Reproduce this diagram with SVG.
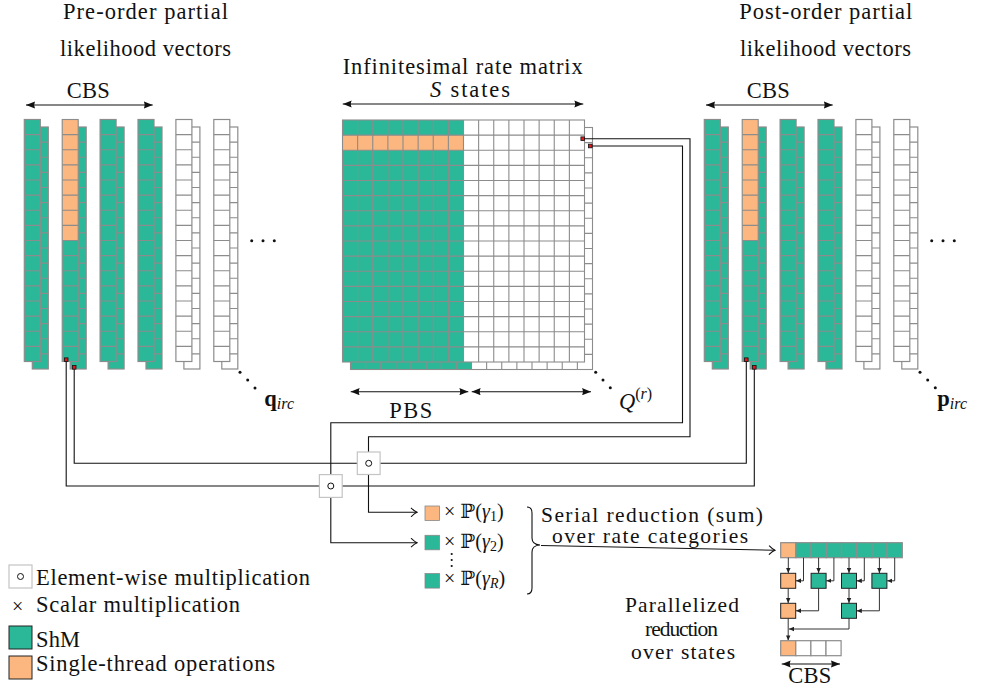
<svg xmlns="http://www.w3.org/2000/svg" xmlns:xlink="http://www.w3.org/1999/xlink" width="988" height="688" viewBox="0 0 988 688">
<style>
.t{font-family:"Liberation Serif","DejaVu Serif",serif;font-size:22.5px;fill:#111}
.s{font-size:20px}
.m{font-size:21.5px}
.gg{fill:#2bb898;stroke:#8c8c8c;stroke-width:1.2}
.go{fill:#fbb77f;stroke:#8c8c8c;stroke-width:1.2}
.gw{fill:#fff;stroke:#8c8c8c;stroke-width:1.2}
.co{fill:#fbb77f}
.cg{fill:#2bb898}
.cw{fill:#fff}
.gl{fill:none;stroke:#8c8c8c;stroke-width:1.1}
.ln{fill:none;stroke:#111;stroke-width:1.1}
.bg{fill:#2bb898;stroke:#222;stroke-width:1}
.bo{fill:#fbb77f;stroke:#222;stroke-width:1}
.cb{fill:#fff;stroke:#c4c4c4;stroke-width:1.2}
.red{fill:#e8161b;stroke:#111;stroke-width:0.8}
</style>
<defs>
<marker id="la" viewBox="0 0 10 8" refX="10" refY="4" markerWidth="9" markerHeight="7.5" markerUnits="userSpaceOnUse" orient="auto-start-reverse"><path d="M0,0 L10,4 L0,8 Q2,4 0,0z" fill="#111"/></marker>
<marker id="to" viewBox="-7 -5 8 10" refX="0" refY="0" markerWidth="8" markerHeight="10" markerUnits="userSpaceOnUse" orient="auto"><path d="M-6,-4.5 C-3.5,-2 -1.5,-0.6 0,0 C-1.5,0.6 -3.5,2 -6,4.5" fill="none" stroke="#111" stroke-width="1.1"/></marker>
<marker id="sa" viewBox="0 0 6 6" refX="6" refY="3" markerWidth="5" markerHeight="5" markerUnits="userSpaceOnUse" orient="auto"><path d="M0,0.3 L6,3 L0,5.7z" fill="#222"/></marker>
<path id="hb" d="M8 22.625h16M8 37.75h16M8 52.875h16M8 68h16M8 83.125h16M8 98.25h16M8 113.375h16M8 128.5h16M8 143.625h16M8 158.75h16M8 173.875h16M8 189h16M8 204.125h16M8 219.25h16M8 234.375h16"/>
<path id="hf" d="M0 15.125h16M0 30.25h16M0 45.375h16M0 60.5h16M0 75.625h16M0 90.75h16M0 105.875h16M0 121h16M0 136.125h16M0 151.25h16M0 166.375h16M0 181.5h16M0 196.625h16M0 211.75h16M0 226.875h16"/>
<path id="mg" d="M15.125 0v242M30.25 0v242M45.375 0v242M60.5 0v242M75.625 0v242M90.75 0v242M105.875 0v242M121 0v242M136.125 0v242M151.25 0v242M166.375 0v242M181.5 0v242M196.625 0v242M211.75 0v242M226.875 0v242M0 15.125h242M0 30.25h242M0 45.375h242M0 60.5h242M0 75.625h242M0 90.75h242M0 105.875h242M0 121h242M0 136.125h242M0 151.25h242M0 166.375h242M0 181.5h242M0 196.625h242M0 211.75h242M0 226.875h242"/>
<g id="vG"><rect class="gg" x="8" y="7.5" width="16" height="242"/><use href="#hb" class="gl"/><rect class="gg" width="16" height="242"/><use href="#hf" class="gl"/></g>
<g id="vO"><rect class="gg" x="8" y="7.5" width="16" height="242"/><use href="#hb" class="gl"/><rect class="cg" width="16" height="242"/><rect class="co" width="16" height="121"/><use href="#hf" class="gl"/><rect class="gl" width="16" height="242"/></g>
<g id="vW"><rect class="gw" x="8" y="7.5" width="16" height="242"/><use href="#hb" class="gl"/><rect class="gw" width="16" height="242"/><use href="#hf" class="gl"/></g>
</defs>
<rect width="988" height="688" fill="#fff"/>

<!-- Pre-order vectors -->
<g id="preorder">
<text class="t" x="63" y="19" textLength="165">Pre-order partial</text>
<text class="t" x="60" y="56" textLength="171">likelihood vectors</text>
<text class="t" x="66.7" y="98" textLength="43">CBS</text>
<line class="ln" x1="26" y1="105" x2="152.7" y2="105" marker-start="url(#la)" marker-end="url(#la)"/>
<use href="#vG" x="24.3" y="119.5"/>
<use href="#vO" x="62.2" y="119.5"/>
<use href="#vG" x="100.1" y="119.5"/>
<use href="#vG" x="138" y="119.5"/>
<use href="#vW" x="175.9" y="119.5"/>
<use href="#vW" x="213.8" y="119.5"/>
<g fill="#111"><circle cx="251.7" cy="240.7" r="1.5"/><circle cx="263" cy="240.7" r="1.5"/><circle cx="274.3" cy="240.7" r="1.5"/>
<circle cx="240" cy="372.3" r="1.5"/><circle cx="247.7" cy="380" r="1.5"/><circle cx="255" cy="388" r="1.5"/></g>
<text class="t" x="264.3" y="406"><tspan font-weight="bold">q</tspan><tspan font-style="italic" font-size="16" dy="3">irc</tspan></text>
</g>

<!-- Rate matrix -->
<g id="matrix">
<text class="t" x="342.7" y="74" textLength="240">Infinitesimal rate matrix</text>
<text class="t" x="430" y="97" textLength="80"><tspan font-style="italic">S</tspan> states</text>
<line class="ln" x1="342.7" y1="104" x2="583.3" y2="104" marker-start="url(#la)" marker-end="url(#la)"/>
<g transform="translate(350.5,127.5)">
<rect class="cg" width="121" height="242"/><rect class="cw" x="121" width="121" height="242"/>
<use href="#mg" class="gl"/><rect class="gl" width="242" height="242"/>
</g>
<g transform="translate(342.5,120)">
<rect class="cg" width="121" height="242"/><rect class="cw" x="121" width="121" height="242"/>
<rect class="co" y="15.125" width="121" height="15.125"/>
<use href="#mg" class="gl"/><rect class="gl" width="242" height="242"/>
</g>
<line class="ln" x1="350.7" y1="391.7" x2="468.3" y2="391.7" marker-start="url(#la)" marker-end="url(#la)"/>
<line class="ln" x1="471.7" y1="391.7" x2="591" y2="391.7" marker-start="url(#la)" marker-end="url(#la)"/>
<text class="t" x="389.3" y="418" textLength="43">PBS</text>
<g fill="#111"><circle cx="595.7" cy="372.3" r="1.5"/><circle cx="603" cy="380" r="1.5"/><circle cx="610.3" cy="387.7" r="1.5"/></g>
<text class="t" x="619" y="409" font-size="23"><tspan font-style="italic">Q</tspan><tspan font-size="16" dy="-10">(</tspan><tspan font-size="16" font-style="italic">r</tspan><tspan font-size="16">)</tspan></text>
</g>

<!-- Post-order vectors -->
<g id="postorder">
<text class="t" x="739.3" y="19" textLength="173">Post-order partial</text>
<text class="t" x="740" y="56" textLength="171">likelihood vectors</text>
<text class="t" x="746.7" y="98" textLength="43">CBS</text>
<line class="ln" x1="706" y1="105" x2="832.7" y2="105" marker-start="url(#la)" marker-end="url(#la)"/>
<use href="#vG" x="704.3" y="119.5"/>
<use href="#vO" x="742.2" y="119.5"/>
<use href="#vG" x="780.1" y="119.5"/>
<use href="#vG" x="818" y="119.5"/>
<use href="#vW" x="855.9" y="119.5"/>
<use href="#vW" x="893.8" y="119.5"/>
<g fill="#111"><circle cx="931.7" cy="240.7" r="1.5"/><circle cx="943" cy="240.7" r="1.5"/><circle cx="954.3" cy="240.7" r="1.5"/>
<circle cx="920" cy="372.3" r="1.5"/><circle cx="927.7" cy="380" r="1.5"/><circle cx="935.3" cy="387.7" r="1.5"/></g>
<text class="t" x="937.3" y="406"><tspan font-weight="bold">p</tspan><tspan font-style="italic" font-size="16" dy="3">irc</tspan></text>
</g>

<!-- Connectors -->
<g id="connectors">
<path class="ln" d="M582.7 138.7H690V436.7H368.5V512.3H417" marker-end="url(#to)"/>
<path class="ln" d="M590.3 146H682.5V422.7H330.8V542.7H417" marker-end="url(#to)"/>
<path class="ln" d="M74.2 367.3V463.3H746.3V359.7"/>
<path class="ln" d="M66.2 359.7V486H754.3V367.3"/>
<path class="ln" d="M527 507Q532 507 532 513V538Q532 544.5 540 545Q532 545.5 532 552V588Q532 594 527 594"/>
<path class="ln" d="M541 545.5L775 550.3" marker-end="url(#to)"/>
</g>

<g id="redmarks">
<rect class="red" x="64.4" y="357.9" width="3.6" height="3.6"/>
<rect class="red" x="72.4" y="365.5" width="3.6" height="3.6"/>
<rect class="red" x="744.5" y="357.9" width="3.6" height="3.6"/>
<rect class="red" x="752.5" y="365.5" width="3.6" height="3.6"/>
<rect class="red" x="580.9" y="136.9" width="3.6" height="3.6"/>
<rect class="red" x="588.5" y="144.2" width="3.6" height="3.6"/>
</g>

<g id="ew1"><rect class="cb" x="357.3" y="452" width="22.8" height="22.5"/><circle cx="368.7" cy="463.3" r="3" fill="#fff" stroke="#111" stroke-width="1"/></g>
<g id="ew2"><rect class="cb" x="319.4" y="474.6" width="22.8" height="22.8"/><circle cx="330.8" cy="486" r="3" fill="#fff" stroke="#111" stroke-width="1"/></g>

<!-- Scalar multiplication by category probabilities -->
<g id="cat1"><rect class="co" x="425" y="506" width="14.5" height="14.5" stroke="#888" stroke-width="0.8"/>
<text class="t s" x="444" y="518">× ℙ(<tspan font-style="italic">γ</tspan><tspan font-size="14" dy="3">1</tspan><tspan dy="-3">)</tspan></text></g>
<g id="cat2"><rect class="cg" x="425" y="535.3" width="14.5" height="14.5" stroke="#888" stroke-width="0.8"/>
<text class="t s" x="444" y="548">× ℙ(<tspan font-style="italic">γ</tspan><tspan font-size="14" dy="3">2</tspan><tspan dy="-3">)</tspan></text></g>
<g fill="#111"><circle cx="451.7" cy="554" r="1.1"/><circle cx="451.7" cy="560" r="1.1"/><circle cx="451.7" cy="566" r="1.1"/></g>
<g id="catR"><rect class="cg" x="425" y="573.6" width="14.5" height="14.5" stroke="#888" stroke-width="0.8"/>
<text class="t s" x="444" y="585">× ℙ(<tspan font-style="italic">γ</tspan><tspan font-size="14" font-style="italic" dy="3">R</tspan><tspan dy="-3">)</tspan></text></g>

<g id="serial">
<text class="t m" x="541" y="522" textLength="222">Serial reduction (sum)</text>
<text class="t m" x="552" y="542.5" textLength="196">over rate categories</text>
</g>

<!-- Parallel reduction tree -->
<g id="tree">
<rect class="go" x="780.7" y="542.7" width="15.2" height="15"/>
<rect class="gg" x="795.9" y="542.7" width="15.2" height="15"/>
<rect class="gg" x="811.1" y="542.7" width="15.2" height="15"/>
<rect class="gg" x="826.3" y="542.7" width="15.2" height="15"/>
<rect class="gg" x="841.5" y="542.7" width="15.2" height="15"/>
<rect class="gg" x="856.7" y="542.7" width="15.2" height="15"/>
<rect class="gg" x="871.9" y="542.7" width="15.2" height="15"/>
<rect class="gg" x="887.1" y="542.7" width="15.2" height="15"/>
<g stroke="#333" stroke-width="1" fill="none">
<path d="M788.3 557.7V573" marker-end="url(#sa)"/>
<path d="M803.5 557.7V580.8H796" marker-end="url(#sa)"/>
<path d="M818.6 557.7V573" marker-end="url(#sa)"/>
<path d="M833.9 557.7V580.8H826.4" marker-end="url(#sa)"/>
<path d="M849 557.7V573" marker-end="url(#sa)"/>
<path d="M864.3 557.7V580.8H856.8" marker-end="url(#sa)"/>
<path d="M879.4 557.7V573" marker-end="url(#sa)"/>
<path d="M894.7 557.7V580.8H887.2" marker-end="url(#sa)"/>
<path d="M788.2 588.3V603" marker-end="url(#sa)"/>
<path d="M818.6 588.3V610.8H796" marker-end="url(#sa)"/>
<path d="M849 588.3V603" marker-end="url(#sa)"/>
<path d="M879.4 588.3V610.8H856.8" marker-end="url(#sa)"/>
<path d="M849 618.3V629H789" marker-end="url(#sa)"/>
<path d="M788.2 618.3V640.4" marker-end="url(#sa)"/>
</g>
<rect class="bo" x="780.7" y="573.3" width="15" height="15"/>
<rect class="bg" x="811.1" y="573.3" width="15" height="15"/>
<rect class="bg" x="841.5" y="573.3" width="15" height="15"/>
<rect class="bg" x="871.9" y="573.3" width="15" height="15"/>
<rect class="bo" x="780.7" y="603.3" width="15" height="15"/>
<rect class="bg" x="841.5" y="603.3" width="15" height="15"/>
<rect class="go" x="780.7" y="640.7" width="15.1" height="15"/>
<rect class="gw" x="795.8" y="640.7" width="15.1" height="15"/>
<rect class="gw" x="810.9" y="640.7" width="15.1" height="15"/>
<rect class="gw" x="826" y="640.7" width="15.1" height="15"/>
<line class="ln" x1="781.7" y1="664" x2="840" y2="664" marker-start="url(#la)" marker-end="url(#la)"/>
<text class="t" x="788.3" y="683" textLength="43">CBS</text>
<text class="t m" x="625" y="612" textLength="114">Parallelized</text>
<text class="t m" x="645" y="636" textLength="73">reduction</text>
<text class="t m" x="631" y="659" textLength="104">over states</text>
</g>

<!-- Legend -->
<g id="legend">
<rect class="cb" x="9" y="565" width="23" height="23"/><circle cx="20.5" cy="576.5" r="3" fill="#fff" stroke="#111" stroke-width="1"/>
<text class="t" x="36" y="585" textLength="274">Element-wise multiplication</text>
<text class="t s" x="12" y="613">×</text>
<text class="t" x="36" y="612" textLength="204">Scalar multiplication</text>
<rect class="bg" x="9" y="626" width="23" height="23"/>
<text class="t" x="36" y="647" textLength="44">ShM</text>
<rect class="bo" x="9" y="656" width="23" height="23"/>
<text class="t" x="36" y="671" textLength="239">Single-thread operations</text>
</g>
</svg>
